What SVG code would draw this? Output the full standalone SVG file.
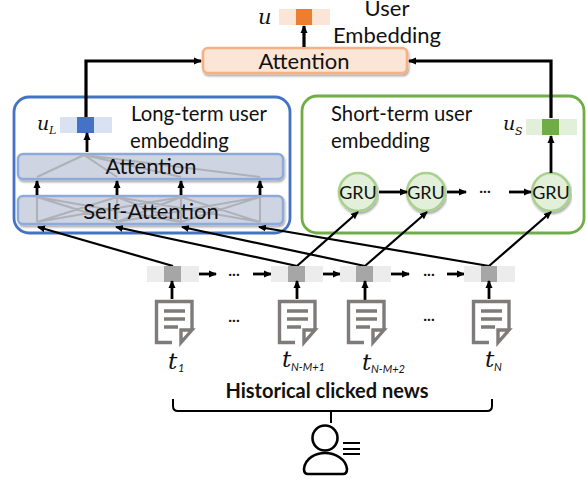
<svg xmlns="http://www.w3.org/2000/svg" width="587" height="481" viewBox="0 0 587 481">
<defs>
<marker id="a" markerUnits="userSpaceOnUse" markerWidth="9" markerHeight="8" refX="7" refY="4" orient="auto"><path d="M0 0.5L8 4L0 7.5Z" fill="#000"/></marker>
<filter id="s" x="-5%" y="-20%" width="110%" height="150%"><feDropShadow dx="1" dy="2" stdDeviation="1.2" flood-color="#000" flood-opacity="0.35"/></filter>
<g id="doc">
<path d="M-2 42.5H-17.5V1.5H18V30" class="dl"/>
<path d="M18 30L7 42.5V30H18Z" class="dl"/>
<path d="M-10 11H11M-10 19H11M-10 27H4" class="dl"/>
</g>
</defs>
<style>
text{font-family:Lato,"Open Sans",sans-serif;fill:#111}
.t{font-size:20.3px}
.h{font-size:22px}
.m{font-family:"DejaVu Serif","Liberation Serif",serif;font-style:italic}
.sb{font-family:Lato,sans-serif;font-style:italic;font-size:11px}
.l{fill:none;stroke:#000;stroke-width:3.2;marker-end:url(#a)}
.d{fill:none;stroke:#000;stroke-width:2.8;marker-end:url(#a)}
.n{fill:none;stroke:#000;stroke-width:2.2;marker-end:url(#a)}
.dl{fill:none;stroke:#7f7b7b;stroke-width:3.4}
.g{fill:none;stroke:#aeb1b8;stroke-width:2.1}
.box{fill:#ced4e2;stroke:#8eaadb;stroke-width:2.4}
.gru{fill:#e2efd9;stroke:#a9d18e;stroke-width:2.6}
.v1{fill:#ececec}.v2{fill:#a6a6a6}
.dots{font-size:16px;font-weight:700}
</style>

<g id="long-term">
<rect x="14" y="97" width="276" height="136" rx="15" fill="#fff" stroke="#4472c4" stroke-width="2.8"/>
<text class="t" x="131" y="121">Long-term user</text>
<text class="t" x="130" y="148">embedding</text>
<text class="m" x="37" y="130" font-size="19">u</text><text class="m" x="49" y="134" font-size="11">L</text>
<rect x="60" y="117" width="52" height="16" fill="#d9e2f3"/><rect x="77" y="117" width="17" height="16" fill="#4472c4"/>
</g>
<g id="attention-long">
<rect class="box" x="18" y="154" width="265" height="25" rx="5" filter="url(#s)"/>
<path class="g" d="M37 177L84 155L117 177M84 155L181 177M84 155L260 177"/>
<text class="h" x="151" y="174" text-anchor="middle">Attention</text>
</g>
<g id="self-attention">
<rect class="box" x="18" y="196" width="265" height="28" rx="5" filter="url(#s)"/>
<path class="g" d="M37 197V222M117 197V222M181 197V222M260 197V222M37 197L117 222M117 197L37 222M117 197L181 222M181 197L117 222M181 197L260 222M260 197L181 222M37 197L181 222M181 197L37 222M117 197L260 222M260 197L117 222"/>
<text class="h" x="151" y="219" text-anchor="middle">Self-Attention</text>
</g>

<g id="short-term">
<rect x="302" y="96" width="282" height="137" rx="15" fill="#fff" stroke="#70ad47" stroke-width="2.8"/>
<text class="t" x="331" y="121">Short-term user</text>
<text class="t" x="331" y="148">embedding</text>
<text class="m" x="503" y="130" font-size="19">u</text><text class="m" x="515" y="135" font-size="11">S</text>
<rect x="526" y="119" width="51" height="16" fill="#e2efd9"/><rect x="542" y="119" width="17" height="16" fill="#70ad47"/>
</g>
<g id="gru1"><circle class="gru" cx="358" cy="192" r="19" filter="url(#s)"/><text x="358" y="199" font-size="18" text-anchor="middle">GRU</text></g>
<g id="gru2"><circle class="gru" cx="426" cy="192" r="19" filter="url(#s)"/><text x="426" y="199" font-size="18" text-anchor="middle">GRU</text></g>
<g id="gru3"><circle class="gru" cx="551" cy="192" r="19" filter="url(#s)"/><text x="551" y="199" font-size="18" text-anchor="middle">GRU</text></g>

<g id="attention-top">
<rect x="203" y="48" width="204" height="25" rx="5" fill="#fbe5d6" stroke="#f4b183" stroke-width="2.6" filter="url(#s)"/>
<text class="h" x="304" y="69" text-anchor="middle">Attention</text>
</g>
<g id="user-embedding">
<text class="m" x="258" y="24" font-size="21">u</text>
<rect x="279" y="9" width="51" height="16" fill="#fbe5d6"/><rect x="296" y="9" width="16" height="16" fill="#ed7d31"/>
<text class="h" x="387" y="16" text-anchor="middle">User</text>
<text class="h" x="387" y="43" text-anchor="middle">Embedding</text>
</g>

<g id="connectors">
<path class="l" d="M304 47V26"/>
<path class="l" d="M86 117V61H201"/>
<path class="l" d="M551 118V61H409"/>
<path class="d" d="M87 152V133"/>
<path class="d" d="M551 173V136"/>
<path class="d" d="M37 195V181"/><path class="d" d="M117 195V181"/><path class="d" d="M181 195V181"/><path class="d" d="M260 195V181"/>
<path class="d" d="M379 192H407"/><path class="d" d="M447 192H466"/><path class="d" d="M509 192H531"/>
<path class="n" d="M173 266L38 227"/>
<path class="n" d="M297 266L116 227"/>
<path class="n" d="M365 266L182 227"/>
<path class="n" d="M489 266L259 227"/>
<path class="n" d="M297 266L358 212"/>
<path class="n" d="M365 266L427 212"/>
<path class="n" d="M489 266L551 212"/>
<path class="d" d="M198 274H216"/><path class="d" d="M253 274H271"/><path class="d" d="M323 274H340"/><path class="d" d="M391 274H409"/><path class="d" d="M447 274H464"/>
</g>

<g id="vectors">
<rect class="v1" x="147" y="266" width="52" height="16"/><rect class="v2" x="164" y="266" width="17" height="16"/>
<rect class="v1" x="271" y="266" width="52" height="16"/><rect class="v2" x="288" y="266" width="17" height="16"/>
<rect class="v1" x="340" y="266" width="51" height="16"/><rect class="v2" x="356" y="266" width="17" height="16"/>
<rect class="v1" x="464" y="266" width="51" height="16"/><rect class="v2" x="481" y="266" width="16" height="16"/>
</g>
<g id="connectors-up">
<path class="d" d="M172 299V281"/><path class="d" d="M297 299V281"/><path class="d" d="M365 301V281"/><path class="d" d="M489 299V281"/>
</g>
<g id="dots">
<text class="dots" x="234" y="276" text-anchor="middle">...</text>
<text class="dots" x="429" y="276" text-anchor="middle">...</text>
<text class="dots" x="234" y="322" text-anchor="middle">...</text>
<text class="dots" x="429" y="321" text-anchor="middle">...</text>
<text class="dots" x="485" y="193" text-anchor="middle">...</text>
</g>
<g id="news1"><use href="#doc" x="174" y="300"/><text class="m" x="168" y="369" font-size="23">t</text><text class="sb" x="178" y="372">1</text></g>
<g id="news2"><use href="#doc" x="297" y="300"/><text class="m" x="282" y="367" font-size="23">t</text><text class="sb" x="291" y="371">N-M+1</text></g>
<g id="news3"><use href="#doc" x="366" y="300"/><text class="m" x="362" y="370" font-size="23">t</text><text class="sb" x="371" y="373">N-M+2</text></g>
<g id="news4"><use href="#doc" x="491" y="300"/><text class="m" x="485" y="367" font-size="23">t</text><text class="sb" x="494" y="371">N</text></g>

<g id="history">
<text x="327" y="398" font-size="20" font-weight="700" text-anchor="middle">Historical clicked news</text>
<path d="M173 399V406Q173 411 178 411H487Q492 411 492 406V399M331 411V423" fill="none" stroke="#000" stroke-width="2"/>
</g>
<g id="user" fill="none" stroke="#000" stroke-width="2.6">
<circle cx="325" cy="438" r="12.5"/>
<path d="M308 474Q304 474 304 469C305 458 316 453 325 453C335 453 346 459 347 469Q347 474 343 474Z"/>
<path d="M343 443H360M343 449H360M343 454H360" stroke-width="2"/>
</g>
</svg>
